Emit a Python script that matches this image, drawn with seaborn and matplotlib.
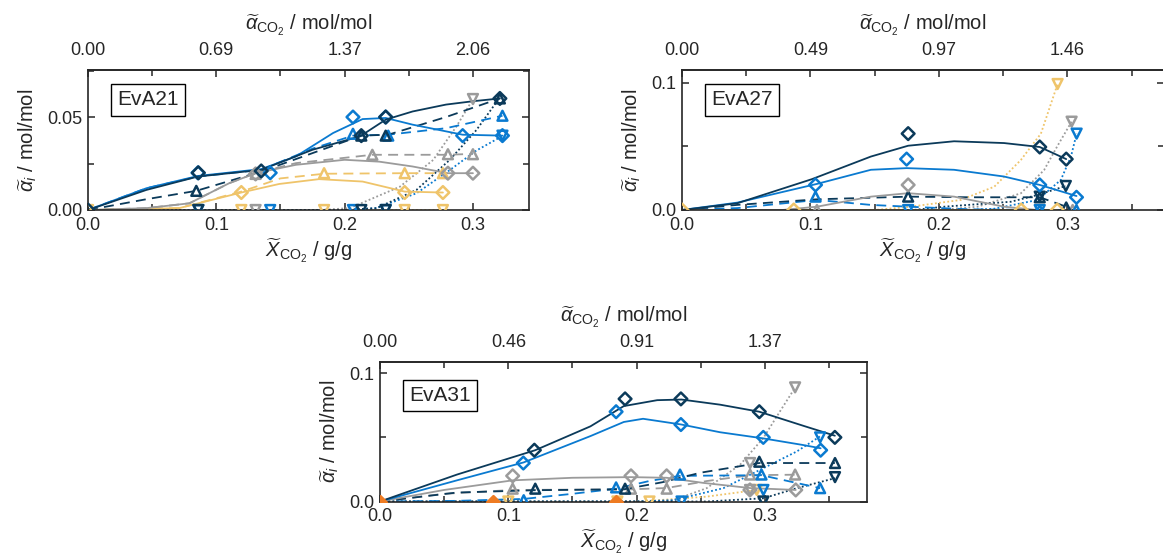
import numpy as np
import pandas as pd
import matplotlib
matplotlib.use("Agg")
import matplotlib.pyplot as plt
import seaborn as sns

# colours
NAVY = "#0b3a5a"
BLUE = "#0a7ad0"
GREY = "#9b9b9b"
YELLOW = "#efc46a"
ORANGE = "#ee7b22"

# ---------------- EvA21 ----------------
eva21_navy_fit = [(0, 0), (0.0455, 0.0108), (0.0857, 0.018), (0.135, 0.0216), (0.175, 0.0324), (0.212, 0.0396),
                  (0.232, 0.0486), (0.253, 0.053), (0.279, 0.0567), (0.30, 0.0585), (0.321, 0.060)]
eva21_navy_dia = [(0, 0), (0.086, 0.020), (0.135, 0.021), (0.213, 0.040), (0.232, 0.050), (0.321, 0.060)]
eva21_blue_fit = [(0, 0), (0.0455, 0.0117), (0.0857, 0.0183), (0.135, 0.022), (0.162, 0.0288), (0.191, 0.0414),
                  (0.214, 0.0489), (0.232, 0.0495), (0.253, 0.0459), (0.292, 0.0405), (0.323, 0.040)]
eva21_blue_dia = [(0.0857, 0.020), (0.142, 0.020), (0.2065, 0.050), (0.232, 0.050), (0.292, 0.040), (0.323, 0.040)]
eva21_grey_fit = [(0, 0), (0.0455, 0.001), (0.079, 0.0036), (0.11, 0.0144), (0.1306, 0.0198), (0.162, 0.0243),
                  (0.2, 0.027), (0.227, 0.026), (0.253, 0.0234), (0.2805, 0.0198), (0.30, 0.0198)]
eva21_grey_dia = [(0.1306, 0.0194), (0.2805, 0.0198), (0.30, 0.0198)]
eva21_yellow_fit = [(0, 0), (0.071, 0.001), (0.1195, 0.0094), (0.149, 0.014), (0.18, 0.0166), (0.214, 0.0153),
                    (0.2468, 0.0099), (0.2766, 0.0094)]
eva21_yellow_dia = [(0.1195, 0.0094), (0.2468, 0.0094), (0.2766, 0.0094)]

eva21_navy_bic = [(0, 0), (0.0455, 0.0058), (0.0844, 0.0103), (0.135, 0.0207), (0.175, 0.0306), (0.213, 0.040),
                  (0.234, 0.0405), (0.279, 0.050), (0.321, 0.060)]
eva21_navy_tri = [(0.0844, 0.0103), (0.213, 0.040), (0.232, 0.040), (0.321, 0.060)]
eva21_blue_bic = [(0, 0), (0.0455, 0.0117), (0.0857, 0.018), (0.135, 0.0216), (0.175, 0.033), (0.2065, 0.040),
                  (0.234, 0.0405), (0.279, 0.044), (0.323, 0.0507)]
eva21_blue_tri = [(0.2065, 0.041), (0.234, 0.040), (0.323, 0.0507)]
eva21_grey_bic = [(0, 0), (0.0455, 0.001), (0.079, 0.0036), (0.11, 0.0144), (0.1306, 0.0198), (0.162, 0.0252),
                  (0.2216, 0.0297), (0.2805, 0.0297), (0.30, 0.0302)]
eva21_grey_tri = [(0.1306, 0.0194), (0.2216, 0.0297), (0.2805, 0.030), (0.30, 0.030)]
eva21_yellow_bic = [(0, 0), (0.071, 0.001), (0.12, 0.010), (0.15, 0.017), (0.184, 0.0195), (0.2468, 0.0198),
                    (0.2766, 0.0198)]
eva21_yellow_tri = [(0.184, 0.0198), (0.2468, 0.0198), (0.2766, 0.0198)]

eva21_grey_car = [(0, 0), (0.18, 0), (0.204, 0.001), (0.243, 0.0125), (0.269, 0.0269), (0.287, 0.0448), (0.30, 0.0596)]
eva21_grey_dn = [(0.1306, 0), (0.30, 0.0597)]
eva21_navy_car = [(0, 0), (0.20, 0), (0.2248, 0.001), (0.256, 0.0108), (0.282, 0.027), (0.3027, 0.043), (0.3204, 0.060)]
eva21_navy_dn = [(0.086, 0), (0.213, 0), (0.232, 0)]
eva21_blue_car = [(0, 0), (0.20, 0), (0.2248, 0.001), (0.256, 0.009), (0.282, 0.0215), (0.3027, 0.032), (0.323, 0.0398)]
eva21_blue_dn = [(0.086, 0), (0.142, 0), (0.2065, 0), (0.232, 0), (0.323, 0.040)]
eva21_yellow_car = [(0, 0), (0.2766, 0)]
eva21_yellow_dn = [(0, 0), (0.1195, 0), (0.184, 0), (0.2468, 0), (0.2766, 0)]

# ---------------- EvA27 ----------------
eva27_navy_fit = [(0, 0), (0.043, 0.0053), (0.101, 0.0242), (0.147, 0.042), (0.176, 0.0505), (0.2117, 0.054),
                  (0.2506, 0.0526), (0.2784, 0.0495), (0.299, 0.040)]
eva27_navy_dia = [(0.176, 0.060), (0.2784, 0.0495), (0.299, 0.040)]
eva27_blue_fit = [(0, 0), (0.043, 0.0058), (0.105, 0.0205), (0.147, 0.0316), (0.1748, 0.0329), (0.2117, 0.0316),
                  (0.2506, 0.0263), (0.2784, 0.0197), (0.307, 0.011)]
eva27_blue_dia = [(0.1039, 0.0197), (0.1748, 0.040), (0.2784, 0.0197), (0.307, 0.010)]
eva27_grey_fit = [(0, 0), (0.078, 0), (0.105, 0.0026), (0.147, 0.0105), (0.176, 0.0132), (0.2117, 0.0105),
                  (0.2506, 0.0026), (0.2766, 0)]
eva27_grey_dia = [(0.176, 0.0197)]
eva27_yellow_fit = [(0, 0), (0.292, 0)]
eva27_yellow_dia = [(0, 0), (0.087, 0), (0.264, 0), (0.292, 0)]

eva27_navy_bic = [(0, 0), (0.043, 0.004), (0.105, 0.0084), (0.176, 0.0105), (0.2247, 0.010), (0.2784, 0.010),
                  (0.299, 0.0026)]
eva27_navy_tri = [(0.176, 0.0105), (0.2784, 0.010), (0.299, 0.002)]
eva27_blue_bic = [(0, 0), (0.043, 0.0015), (0.105, 0.0079), (0.147, 0.004), (0.176, 0.0026), (0.2247, 0.0005),
                  (0.2784, 0), (0.307, 0)]
eva27_blue_tri = [(0.1039, 0.0105), (0.2784, 0), (0.307, 0)]
eva27_grey_tri = [(0.105, 0), (0.304, 0)]

eva27_yellow_car = [(0, 0), (0.15, 0), (0.178, 0.0026), (0.217, 0.0079), (0.243, 0.0183), (0.2637, 0.0393),
                    (0.2793, 0.060), (0.2923, 0.099)]
eva27_yellow_dn = [(0.2923, 0.099)]
eva27_grey_car = [(0, 0), (0.20, 0), (0.23, 0.0026), (0.2637, 0.0131), (0.2818, 0.0314), (0.292, 0.050),
                  (0.3032, 0.0694)]
eva27_grey_dn = [(0.3032, 0.0694)]
eva27_blue_car = [(0, 0), (0.22, 0), (0.243, 0.001), (0.2767, 0.0079), (0.2948, 0.0236), (0.3027, 0.042),
                  (0.3071, 0.060)]
eva27_blue_dn = [(0.176, 0), (0.2784, 0), (0.3071, 0.060)]
eva27_navy_car = [(0, 0), (0.18, 0), (0.204, 0.0026), (0.256, 0.0065), (0.2767, 0.0118), (0.2987, 0.0189)]
eva27_navy_dn = [(0.2784, 0.0105), (0.2987, 0.0189)]

# ---------------- EvA31 ----------------
eva31_navy_fit = [(0, 0), (0.06, 0.021), (0.121, 0.040), (0.164, 0.0586), (0.19, 0.0744), (0.216, 0.079),
                  (0.235, 0.0795), (0.265, 0.0755), (0.2956, 0.070), (0.33, 0.059), (0.3545, 0.0513)]
eva31_navy_dia = [(0.1203, 0.040), (0.191, 0.080), (0.2345, 0.080), (0.2956, 0.070), (0.3545, 0.050)]
eva31_blue_fit = [(0, 0), (0.06, 0.0165), (0.112, 0.0305), (0.164, 0.051), (0.19, 0.062), (0.205, 0.0645),
                  (0.235, 0.060), (0.265, 0.054), (0.2987, 0.0492), (0.33, 0.044), (0.3434, 0.0415)]
eva31_blue_dia = [(0.1117, 0.030), (0.184, 0.070), (0.2345, 0.060), (0.2987, 0.050), (0.3434, 0.040)]
eva31_grey_fit = [(0, 0), (0.05, 0.009), (0.1034, 0.0165), (0.15, 0.0185), (0.1956, 0.019), (0.2234, 0.0185),
                  (0.252, 0.0145), (0.2883, 0.0105), (0.324, 0.009)]
eva31_grey_dia = [(0.1034, 0.020), (0.1956, 0.020), (0.2234, 0.020), (0.2883, 0.009), (0.324, 0.009)]
eva31_orange_dia = [(0, 0), (0.088, 0), (0.184, 0)]

eva31_navy_bic = [(0, 0), (0.06, 0.007), (0.121, 0.0088), (0.19, 0.0095), (0.22, 0.015), (0.25, 0.0225),
                  (0.2956, 0.030), (0.3545, 0.030)]
eva31_navy_tri = [(0.121, 0.010), (0.191, 0.010), (0.2956, 0.031), (0.3546, 0.030)]
eva31_blue_bic = [(0, 0), (0.06, 0.0005), (0.112, 0.002), (0.15, 0.006), (0.184, 0.010), (0.21, 0.016),
                  (0.2338, 0.020), (0.2973, 0.0205), (0.343, 0.0104)]
eva31_blue_tri = [(0.112, 0.001), (0.184, 0.011), (0.2338, 0.021), (0.2973, 0.021), (0.343, 0.0104)]
eva31_grey_bic = [(0, 0), (0.05, 0.006), (0.1034, 0.009), (0.1956, 0.0095), (0.2234, 0.0105), (0.255, 0.016),
                  (0.2884, 0.0205), (0.3235, 0.0209)]
eva31_grey_tri = [(0.1034, 0.010), (0.1956, 0.010), (0.2234, 0.010), (0.2884, 0.021), (0.3235, 0.021)]

eva31_grey_car = [(0, 0), (0.20, 0), (0.2286, 0.001), (0.2546, 0.0104), (0.2806, 0.0286), (0.2988, 0.0496),
                  (0.3118, 0.0704), (0.3235, 0.0888)]
eva31_grey_dn = [(0.2884, 0.030), (0.2884, 0.009), (0.3235, 0.089)]
eva31_blue_car = [(0, 0), (0.20, 0), (0.2286, 0.001), (0.2676, 0.0104), (0.2988, 0.026), (0.3248, 0.039),
                  (0.343, 0.0508)]
eva31_blue_dn = [(0.235, 0), (0.2988, 0.009), (0.343, 0.050)]
eva31_navy_car = [(0, 0), (0.2546, 0), (0.2988, 0.0025), (0.3248, 0.0104), (0.3546, 0.0182)]
eva31_navy_dn = [(0.2988, 0), (0.3546, 0.019)]
eva31_yellow_car = [(0, 0), (0.2026, 0), (0.2546, 0.0038), (0.2936, 0.009)]
eva31_yellow_dn = [(0.1, 0), (0.185, 0), (0.21, 0), (0.2936, 0.009)]
eva31_orange_car = [(0, 0), (0.2, 0)]

# axis tick labels
bottom_ticks = [0.0, 0.1, 0.2, 0.3]
bottom_labels = ["0.0", "0.1", "0.2", "0.3"]
minor_ticks = [0.05, 0.15, 0.25, 0.35]
top_labels_21 = ["0.00", "0.69", "1.37", "2.06"]
top_labels_27 = ["0.00", "0.49", "0.97", "1.46"]
top_labels_31 = ["0.00", "0.46", "0.91", "1.37"]

SOLID = "-"
DASHED = (0, (5.5, 3.5))
DOTTED = (0, (1, 1.3))
TICK_FS = 13
LABEL_FS = 14.5

sns.set_style("ticks")
plt.rcParams["font.family"] = ["Liberation Sans", "DejaVu Sans"]
plt.rcParams["mathtext.fontset"] = "custom"
plt.rcParams["mathtext.rm"] = "Liberation Sans"
plt.rcParams["mathtext.it"] = "Liberation Sans:italic"
plt.rcParams["axes.linewidth"] = 1.2

W, H = 1163, 560
fig = plt.figure(figsize=(W / 100, H / 100), dpi=100)


def add_axes(l, r, t, b):
    return fig.add_axes([l / W, 1 - b / H, (r - l) / W, (b - t) / H])


def curve(ax, pts, color, ls):
    d = pd.DataFrame(pts, columns=["x", "a"])
    sns.lineplot(data=d, x="x", y="a", color=color, linestyle=ls, lw=1.3,
                 sort=False, estimator=None, ax=ax, zorder=2)


def marks(ax, pts, color, marker, filled=False, s=50):
    d = pd.DataFrame(pts, columns=["x", "a"])
    sns.scatterplot(data=d, x="x", y="a", marker=marker, s=s, color=color,
                    edgecolor=color, linewidth=1.8, ax=ax, zorder=3)
    if not filled:
        ax.collections[-1].set_facecolor("none")


def setup(ax, xmax, ymax, yticks, ylabels, yminor, top_labels, name, box_xy):
    ax.set_xlim(0, xmax)
    ax.set_ylim(0, ymax)
    ax.set_xticks(bottom_ticks, bottom_labels)
    ax.set_xticks([m for m in minor_ticks if m < xmax], minor=True)
    ax.set_yticks(yticks, ylabels)
    ax.set_yticks(yminor, minor=True)
    ax.tick_params(which="both", direction="in", right=True, top=False, width=1.1, labelsize=TICK_FS)
    ax.tick_params(which="major", length=5)
    ax.tick_params(which="minor", length=4)
    ax.tick_params(axis="x", pad=5)
    ax.tick_params(axis="y", pad=4)
    ax.set_xlabel(r"$\widetilde{X}_{\mathrm{CO_2}}$ / g/g", fontsize=LABEL_FS, labelpad=2)
    ax.set_ylabel(r"$\widetilde{\alpha}_i$ / mol/mol", fontsize=LABEL_FS, labelpad=6)
    sec = ax.secondary_xaxis("top")
    sec.set_xticks(bottom_ticks, top_labels)
    sec.set_xticks([m for m in minor_ticks if m < xmax], minor=True)
    sec.tick_params(which="both", direction="in", width=1.1, labelsize=TICK_FS, pad=8)
    sec.tick_params(which="major", length=5)
    sec.tick_params(which="minor", length=4)
    sec.set_xlabel(r"$\widetilde{\alpha}_{\mathrm{CO_2}}$ / mol/mol", fontsize=LABEL_FS, labelpad=8)
    ax.text(box_xy[0], box_xy[1], name, transform=ax.transAxes, fontsize=15,
            ha="center", va="center", zorder=5,
            bbox=dict(boxstyle="square,pad=0.3", fc="white", ec="black", lw=1))


# ---- panel EvA21 ----
ax1 = add_axes(88, 528.5, 70, 210)
for pts, c in [(eva21_yellow_car, YELLOW), (eva21_grey_car, GREY), (eva21_blue_car, BLUE), (eva21_navy_car, NAVY)]:
    curve(ax1, pts, c, DOTTED)
for pts, c in [(eva21_yellow_bic, YELLOW), (eva21_grey_bic, GREY), (eva21_blue_bic, BLUE), (eva21_navy_bic, NAVY)]:
    curve(ax1, pts, c, DASHED)
for pts, c in [(eva21_yellow_fit, YELLOW), (eva21_grey_fit, GREY), (eva21_blue_fit, BLUE), (eva21_navy_fit, NAVY)]:
    curve(ax1, pts, c, SOLID)
for pts, c in [(eva21_yellow_dn, YELLOW), (eva21_grey_dn, GREY), (eva21_blue_dn, BLUE), (eva21_navy_dn, NAVY)]:
    marks(ax1, pts, c, "v")
for pts, c in [(eva21_yellow_tri, YELLOW), (eva21_grey_tri, GREY), (eva21_blue_tri, BLUE), (eva21_navy_tri, NAVY)]:
    marks(ax1, pts, c, "^")
for pts, c in [(eva21_yellow_dia, YELLOW), (eva21_grey_dia, GREY), (eva21_blue_dia, BLUE), (eva21_navy_dia, NAVY)]:
    marks(ax1, pts, c, "D", s=42)
setup(ax1, 0.3433, 0.0753, [0, 0.05], ["0.00", "0.05"], [0.025, 0.075], top_labels_21, "EvA21", (0.136, 0.786))

# ---- panel EvA27 ----
ax2 = add_axes(682, 1164, 70, 210)
for pts, c in [(eva27_yellow_car, YELLOW), (eva27_grey_car, GREY), (eva27_blue_car, BLUE), (eva27_navy_car, NAVY)]:
    curve(ax2, pts, c, DOTTED)
for pts, c in [(eva27_blue_bic, BLUE), (eva27_navy_bic, NAVY)]:
    curve(ax2, pts, c, DASHED)
for pts, c in [(eva27_yellow_fit, YELLOW), (eva27_grey_fit, GREY), (eva27_blue_fit, BLUE), (eva27_navy_fit, NAVY)]:
    curve(ax2, pts, c, SOLID)
for pts, c in [(eva27_yellow_dn, YELLOW), (eva27_grey_dn, GREY), (eva27_blue_dn, BLUE), (eva27_navy_dn, NAVY)]:
    marks(ax2, pts, c, "v")
for pts, c in [(eva27_grey_tri, GREY), (eva27_blue_tri, BLUE), (eva27_navy_tri, NAVY)]:
    marks(ax2, pts, c, "^")
for pts, c in [(eva27_yellow_dia, YELLOW), (eva27_grey_dia, GREY), (eva27_blue_dia, BLUE), (eva27_navy_dia, NAVY)]:
    marks(ax2, pts, c, "D", s=42)
setup(ax2, 0.3751, 0.110, [0, 0.1], ["0.0", "0.1"], [0.05], top_labels_27, "EvA27", (0.124, 0.786))

# ---- panel EvA31 ----
ax3 = add_axes(380, 866.7, 361.7, 501.5)
for pts, c in [(eva31_orange_car, ORANGE), (eva31_yellow_car, YELLOW), (eva31_grey_car, GREY),
               (eva31_blue_car, BLUE), (eva31_navy_car, NAVY)]:
    curve(ax3, pts, c, DOTTED)
for pts, c in [(eva31_grey_bic, GREY), (eva31_blue_bic, BLUE), (eva31_navy_bic, NAVY)]:
    curve(ax3, pts, c, DASHED)
for pts, c in [(eva31_grey_fit, GREY), (eva31_blue_fit, BLUE), (eva31_navy_fit, NAVY)]:
    curve(ax3, pts, c, SOLID)
for pts, c in [(eva31_yellow_dn, YELLOW), (eva31_grey_dn, GREY), (eva31_blue_dn, BLUE), (eva31_navy_dn, NAVY)]:
    marks(ax3, pts, c, "v")
for pts, c in [(eva31_grey_tri, GREY), (eva31_blue_tri, BLUE), (eva31_navy_tri, NAVY)]:
    marks(ax3, pts, c, "^")
for pts, c in [(eva31_grey_dia, GREY), (eva31_blue_dia, BLUE), (eva31_navy_dia, NAVY)]:
    marks(ax3, pts, c, "D", s=42)
marks(ax3, eva31_orange_dia, ORANGE, "D", filled=True, s=42)
setup(ax3, 0.3793, 0.109, [0, 0.1], ["0.0", "0.1"], [0.05], top_labels_31, "EvA31", (0.123, 0.76))

fig.savefig("out.png", dpi=100)
